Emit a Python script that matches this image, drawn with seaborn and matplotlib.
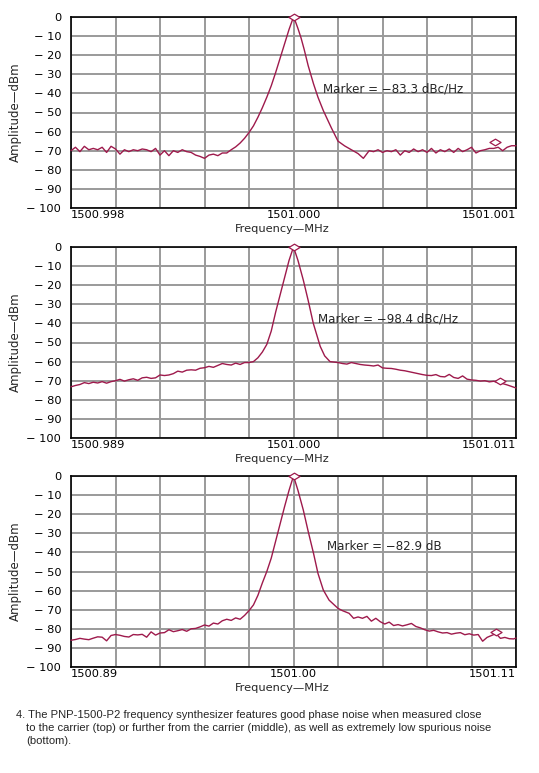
import numpy as np
import pandas as pd
import matplotlib
matplotlib.use("Agg")
from matplotlib import pyplot as plt
from matplotlib.path import Path
import seaborn as sns

# x is the offset from the carrier in screen divisions (10 divisions per screen)
# ---- top panel: close to the carrier
top_x = [-5.0, -4.9, -4.8, -4.7, -4.6, -4.5, -4.4, -4.3, -4.2, -4.1, -4.0, -3.9,
         -3.8, -3.7, -3.6, -3.5, -3.4, -3.3, -3.2, -3.1, -3.0, -2.9, -2.8, -2.7,
         -2.6, -2.5, -2.4, -2.3, -2.2, -2.1, -2.0, -1.9, -1.8, -1.7, -1.6, -1.5,
         -1.4, -1.3, -1.2, -1.1, -1.0, -0.9, -0.8, -0.7, -0.6, -0.5, -0.4, -0.3,
         -0.2, -0.1, 0.0, 0.05, 0.1, 0.17, 0.24, 0.33, 0.45, 0.55, 0.67, 0.85,
         1.0, 1.15, 1.3, 1.45, 1.57,
         1.7, 1.8, 1.9, 2.0, 2.1, 2.2, 2.3, 2.4, 2.5, 2.6, 2.7, 2.8, 2.9, 3.0,
         3.1, 3.2, 3.3, 3.4, 3.5, 3.6, 3.7, 3.8, 3.9, 4.0, 4.1, 4.2, 4.3, 4.4,
         4.5, 4.6, 4.7, 4.8, 4.9, 5.0]
top_db = [-70.0, -68.2, -70.5, -67.7, -69.5, -68.8, -69.5, -68.2, -70.9, -67.7,
          -69.1, -71.8, -69.5, -70.5, -69.5, -70.0, -69.1, -69.5, -70.5, -68.8,
          -72.3, -70.0, -72.6, -70.0, -70.9, -69.5, -70.5, -70.9, -72.3, -73.0,
          -74.0, -72.3, -71.8, -72.6, -71.2, -71.2,
          -69.5, -68.0, -66.0, -63.5, -60.5, -57.0, -52.5, -47.5, -42.0, -36.0,
          -29.0, -21.5, -14.0, -6.5, 0.0, -2.8, -6.0, -11.0, -17.0, -25.5, -35.0,
          -42.0, -49.0, -58.0, -65.0, -67.5, -69.5, -71.5, -74.0,
          -70.0, -70.5, -69.5, -70.9, -70.0, -70.5, -69.5, -72.3, -70.0, -70.9,
          -69.1, -70.5, -69.5, -70.9, -68.8, -71.2, -69.5, -70.5, -69.1, -70.9,
          -68.8, -70.5, -69.5, -68.2, -71.2, -70.0, -69.5, -68.8, -68.8, -68.2,
          -70.0, -68.2, -67.4, -67.4]

# ---- middle panel: further from the carrier
mid_x = [-5.0, -4.9, -4.8, -4.7, -4.6, -4.5, -4.4, -4.3, -4.2, -4.1, -4.0, -3.9,
         -3.8, -3.7, -3.6, -3.5, -3.4, -3.3, -3.2, -3.1, -3.0, -2.9, -2.8, -2.7,
         -2.6, -2.5, -2.4, -2.3, -2.2, -2.1, -2.0, -1.9, -1.8, -1.7, -1.6, -1.5,
         -1.4, -1.3, -1.2, -1.1, -1.0, -0.9, -0.8, -0.7, -0.6, -0.5, -0.4, -0.3,
         -0.2, -0.1, 0.0, 0.1, 0.22, 0.33, 0.445, 0.6, 0.7, 0.82, 1.0, 1.1, 1.2,
         1.3, 1.4, 1.5, 1.6, 1.7, 1.8, 1.9, 2.0, 2.1, 2.2, 2.3, 2.4, 2.5, 2.6,
         2.7, 2.8, 2.9, 3.0, 3.1, 3.2, 3.3, 3.4, 3.5, 3.6, 3.7, 3.8, 3.9, 4.0,
         4.1, 4.2, 4.3, 4.4, 4.5, 4.6, 4.7, 4.8, 4.9, 5.0]
mid_db = [-73.2, -72.5, -72.0, -71.0, -71.5, -70.8, -71.2, -70.5, -71.3, -70.5,
          -70.0, -69.3, -70.2, -69.5, -69.0, -69.8, -68.5, -68.2, -68.8, -68.5,
          -67.0, -67.3, -67.0, -66.3, -65.0, -65.5, -64.5, -64.3, -64.5, -63.5,
          -63.2, -62.5, -63.0, -62.0, -61.0, -61.5, -61.8, -60.8, -61.5, -60.5,
          -60.5, -60.0, -58.0, -55.0, -51.0, -44.0, -34.0, -25.0, -16.0, -7.0,
          0.0, -7.0, -17.3, -28.0, -40.0, -52.0, -57.0, -60.0, -60.5, -61.0,
          -61.3, -60.5, -61.0, -61.5, -61.8, -62.0, -62.3, -61.8, -63.3, -63.5,
          -63.6, -64.0, -64.5, -64.8, -65.3, -65.8, -66.3, -66.8, -67.2, -67.3,
          -66.8, -67.8, -68.0, -66.7, -68.3, -68.8, -67.5, -69.2, -69.6, -69.8,
          -70.2, -70.0, -70.6, -70.3, -71.0, -71.5, -72.2, -73.0, -73.8]

# ---- bottom panel: spurious noise
bot_x = [-5.0, -4.9, -4.8, -4.7, -4.6, -4.5, -4.4, -4.3, -4.2, -4.1, -4.0, -3.9,
         -3.8, -3.7, -3.6, -3.5, -3.4, -3.3, -3.2, -3.1, -3.0, -2.9, -2.8, -2.7,
         -2.6, -2.5, -2.4, -2.3, -2.2, -2.1, -2.0, -1.9, -1.8, -1.7, -1.6, -1.5,
         -1.4, -1.3, -1.2, -1.1, -1.0, -0.9, -0.8, -0.7, -0.6, -0.5, -0.4, -0.3,
         -0.2, -0.1, 0.0, 0.1, 0.22, 0.33, 0.45, 0.55, 0.67, 0.8, 1.0, 1.1, 1.25,
         1.35, 1.45, 1.55, 1.65, 1.75, 1.85, 1.95, 2.05, 2.15, 2.25, 2.35, 2.45,
         2.55, 2.65, 2.75, 2.85, 2.95, 3.05, 3.15, 3.25, 3.35, 3.45, 3.55, 3.65,
         3.75, 3.85, 3.95, 4.05, 4.15, 4.25, 4.35, 4.45, 4.55, 4.65, 4.75, 4.85,
         4.95, 5.0]
bot_db = [-86.0, -85.6, -85.0, -85.4, -85.7, -84.9, -84.2, -84.4, -86.3, -83.5,
          -83.0, -83.4, -84.0, -84.3, -83.0, -83.2, -82.9, -84.4, -81.6, -83.3,
          -82.2, -82.0, -80.5, -81.5, -81.0, -80.4, -81.3, -80.0, -79.8, -79.0,
          -78.0, -78.6, -77.0, -77.5, -75.8, -75.0, -75.6, -74.3, -75.0, -73.0,
          -70.5, -67.5, -62.5, -56.0, -50.0, -43.0, -34.0, -25.0, -16.0, -7.5,
          0.0, -7.5, -17.8, -29.0, -40.5, -51.0, -59.7, -65.0, -69.3, -70.5,
          -71.9, -74.5, -73.8, -74.5, -73.5, -76.0, -74.5, -76.3, -77.5, -76.5,
          -78.3, -77.8, -78.5, -77.9, -77.2, -78.8, -79.5, -80.5, -81.2, -80.8,
          -81.6, -82.2, -82.0, -82.8, -82.3, -82.0, -83.1, -82.6, -83.3, -83.0,
          -86.5, -84.5, -83.5, -82.5, -85.0, -84.5, -85.2, -85.3, -84.8]

# markers: (x, dB) of peak marker and of the offset marker
top_markers = [(0.0, 0.0), (4.53, -65.6)]
mid_markers = [(0.0, 0.0), (4.64, -70.2)]
bot_markers = [(0.0, 0.0), (4.55, -81.7)]

marker_texts = ["Marker = \u221283.3 dBc/Hz", "Marker = \u221298.4 dBc/Hz",
                "Marker = \u221282.9 dB"]
marker_text_x = [0.66, 0.55, 0.75]
marker_text_y = [-37.5, -37.5, -37.0]

xtick_labels = [["1500.998", "1501.000", "1501.001"],
                ["1500.989", "1501.000", "1501.011"],
                ["1500.89", "1501.00", "1501.11"]]
ytick_vals = list(range(-100, 1, 10))

caption = ["4. The PNP-1500-P2 frequency synthesizer features good phase noise when measured close",
           "to the carrier (top) or further from the carrier (middle), as well as extremely low spurious noise",
           "(bottom)."]

sns.set_style("white")
plt.rcParams['font.family'] = ['DejaVu Sans']

line_color = "#9e1a4c"
grid_color = "#9a9a9a"
diamond = Path([(-1, 0), (0, 0.6), (1, 0), (0, -0.6), (-1, 0)],
               [Path.MOVETO, Path.LINETO, Path.LINETO, Path.LINETO, Path.CLOSEPOLY])

fig = plt.figure(figsize=(5.39, 7.73), dpi=100)
W, H = 539.0, 773.0
panel_tops = [17, 247, 476]
panels = [(top_x, top_db, top_markers), (mid_x, mid_db, mid_markers),
          (bot_x, bot_db, bot_markers)]

for i, (xs, ys, marks) in enumerate(panels):
    t = panel_tops[i]
    ax = fig.add_axes([71 / W, 1 - (t + 191) / H, 445 / W, 191 / H])
    df = pd.DataFrame({"offset": xs, "amplitude": ys})
    sns.lineplot(data=df, x="offset", y="amplitude", ax=ax, color=line_color,
                 linewidth=1.0, zorder=3, clip_on=False)
    mx = [m[0] for m in marks]
    my = [m[1] for m in marks]
    ax.plot(mx, my, linestyle="none", marker=diamond, markersize=8,
            markerfacecolor="white", markeredgecolor=line_color,
            markeredgewidth=0.9, zorder=4, clip_on=False)

    ax.set_xlim(-5, 5)
    ax.set_ylim(-100, 0)
    ax.set_xticks(range(-5, 6))
    labels = [""] * 11
    labels[0], labels[5], labels[10] = xtick_labels[i]
    ax.set_xticklabels(labels)
    tl = ax.get_xticklabels()
    tl[0].set_ha("left")
    tl[10].set_ha("right")
    ax.set_yticks(ytick_vals)
    ax.set_yticklabels([str(v).replace("-", "\u2212 ") if v else "0"
                        for v in ytick_vals])
    ax.tick_params(axis="both", length=0, labelsize=8.2, colors="black")
    ax.tick_params(axis="x", pad=1.5)
    ax.tick_params(axis="y", pad=7)
    ax.grid(True, color=grid_color, linewidth=1.4)
    ax.set_axisbelow(True)
    for s in ax.spines.values():
        s.set_color("black")
        s.set_linewidth(1.2)
        s.set_zorder(2.5)

    ax.text(marker_text_x[i], marker_text_y[i], marker_texts[i], fontsize=8.6,
            ha="left", va="center", zorder=5)
    ax.set_xlabel("Frequency\u2014MHz", fontsize=8.2)
    ax.xaxis.set_label_coords(0.475, -0.086)
    ax.set_ylabel("Amplitude\u2014dBm", fontsize=8.5, labelpad=4,
                  family=['Liberation Sans Narrow', 'DejaVu Sans'])
    ax.yaxis.set_label_coords(-0.11, 0.5)

cap_kw = dict(fontsize=8.1, va="center", family=['Liberation Sans', 'DejaVu Sans'])
fig.text(16 / W, 1 - 715 / H, caption[0], **cap_kw)
fig.text(26 / W, 1 - 728 / H, caption[1], **cap_kw)
fig.text(26 / W, 1 - 741 / H, caption[2], **cap_kw)

fig.savefig("out.png", dpi=100)
